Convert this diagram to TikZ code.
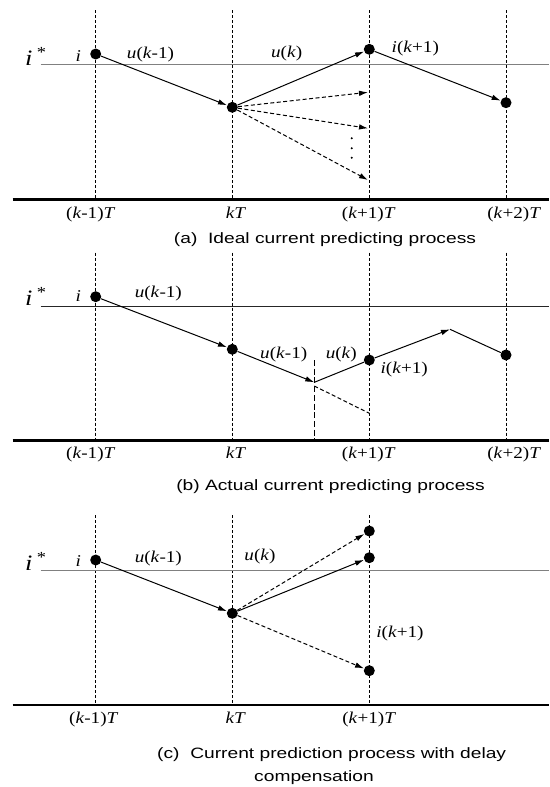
\documentclass[tikz,border=0pt]{standalone}
\usepackage{fontspec}
\setmainfont{Liberation Serif}
\setsansfont{Liberation Sans}
\usetikzlibrary{arrows.meta,positioning}

\begin{document}
\begin{tikzpicture}[x=1pt, y=-1pt,
  dot/.style={circle, fill=black, inner sep=0pt, minimum size=11pt},
  dotsm/.style={circle, fill=black, inner sep=0pt, minimum size=2.2pt},
  vl/.style={line width=0.9pt, dash pattern=on 3.3pt off 1.7pt},
  swl/.style={line width=1pt, dash pattern=on 6pt off 2.7pt},
  baseln/.style={line width=2.4pt},
  refln/.style={line width=1.4pt, draw=black!50},
  reflnb/.style={line width=1pt, draw=black!85},
  ar/.style={-{Latex[length=9pt, width=5.5pt]}, line width=1pt},
  dar/.style={ar, dash pattern=on 4pt off 2.5pt},
  ln/.style={line width=1pt},
  dln/.style={line width=1pt, dash pattern=on 4pt off 2.5pt},
  lb/.style={font=\fontsize{16.5}{19}\selectfont, inner sep=0pt, anchor=base, xscale=1.16},
  istar/.style={font=\fontsize{22}{24}\selectfont, inner sep=0pt, anchor=base west, xscale=1.2},
  captxt/.style={font=\sffamily\fontsize{15}{18}\selectfont, inner sep=0pt, anchor=base, xscale=1.28},
]
\useasboundingbox (0,0) rectangle (549,787);

\draw[vl] (95.7,10) -- (95.7,199.3);
\draw[vl] (232.3,10) -- (232.3,199.3);
\draw[vl] (369.3,10) -- (369.3,199.3);
\draw[vl] (506,10) -- (506,199.3);
\draw[refln] (40.7,64.3) -- (549,64.3);
\draw[baseln] (12.7,199.3) -- (549,199.3);
\node[istar] (sa) at (25,65) {\textit{i}\,\textsuperscript{*}};
\node[dot] (a1) at (95.7,54) {};
\node[dot] (a2) at (232.3,107.3) {};
\node[dot] (a3) at (369.3,49.3) {};
\node[dot] (a4) at (506,102.7) {};
\coordinate (e1) at (368,92.3);
\coordinate (e2) at (368,128.3);
\coordinate (e3) at (368,180);
\draw[ar] (a1) -- (a2); \draw[ar] (a2) -- (a3); \draw[ar] (a3) -- (a4);
\draw[dar] (a2) -- (e1); \draw[dar] (a2) -- (e2); \draw[dar] (a2) -- (e3);
\node[dotsm] (v1) at (351.7,138.3) {};
\node[dotsm] (v2) at (351.7,148.3) {};
\node[dotsm] (v3) at (351.7,157.7) {};
\node[lb] (la1) at (78.3,61.7) {\textit{i}};
\node[lb] (la2) at (150.5,58.7) {\textit{u}(\textit{k}-1)};
\node[lb] (la3) at (286.7,57) {\textit{u}(\textit{k})};
\node[lb] (la4) at (415.3,52) {\textit{i}(\textit{k}+1)};
\node[lb] (ta1) at (90.8,218.5) {(\textit{k}-1)\textit{T}};
\node[lb] (ta2) at (236,218.5) {\textit{kT}};
\node[lb] (ta3) at (368.8,218.5) {(\textit{k}+1)\textit{T}};
\node[lb] (ta4) at (514.2,218.5) {(\textit{k}+2)\textit{T}};
\node[captxt] (capa) at (325,243.5) {(a)\ \ Ideal current predicting process};

\draw[vl] (95.7,252.7) -- (95.7,440.3);
\draw[vl] (232.3,252.7) -- (232.3,440.3);
\draw[vl] (369.3,252.7) -- (369.3,440.3);
\draw[vl] (506,252.7) -- (506,440.3);
\draw[reflnb] (40.7,306.5) -- (549,306.5);
\draw[baseln] (12.7,440.3) -- (549,440.3);
\node[istar] (sb) at (25,305) {\textit{i}\,\textsuperscript{*}};
\node[dot] (b1) at (95.7,296.7) {};
\node[dot] (b2) at (232.3,349.3) {};
\node[dot] (b3) at (369.3,360) {};
\node[dot] (b4) at (506,355) {};
\coordinate (bs) at (314.3,382.3);
\coordinate (bp) at (450,329.3);
\coordinate (bd1) at (314.3,386);
\coordinate (bd2) at (369.3,413.3);
\coordinate (bw1) at (314.3,360);
\coordinate (bw2) at (314.3,440.3);
\draw[swl] (bw1) -- (bw2);
\draw[ar] (b1) -- (b2); \draw[ar] (b2) -- (bs);
\draw[ln] (bs) -- (b3); \draw[ar] (b3) -- (bp); \draw[ln] (bp) -- (b4);
\draw[dln] (bd1) -- (bd2);
\node[lb] (lb1) at (78.3,301.7) {\textit{i}};
\node[lb] (lb2) at (158.3,297) {\textit{u}(\textit{k}-1)};
\node[lb] (lb3) at (283.7,358.7) {\textit{u}(\textit{k}-1)};
\node[lb] (lb4) at (341.3,358.7) {\textit{u}(\textit{k})};
\node[lb] (lb5) at (404.2,373.7) {\textit{i}(\textit{k}+1)};
\node[lb] (tb1) at (90.8,458.5) {(\textit{k}-1)\textit{T}};
\node[lb] (tb2) at (236,458.5) {\textit{kT}};
\node[lb] (tb3) at (368.8,458.5) {(\textit{k}+1)\textit{T}};
\node[lb] (tb4) at (514.2,458.5) {(\textit{k}+2)\textit{T}};
\node[captxt] (capb) at (330.5,490.5) {(b) Actual current predicting process};

\draw[vl] (95.7,515) -- (95.7,705);
\draw[vl] (232.3,515) -- (232.3,705);
\draw[vl] (369.3,515) -- (369.3,705);
\draw[refln] (40.7,570.7) -- (549,570.7);
\draw[baseln] (12.7,705) -- (549,705);
\node[istar] (sc) at (25,570) {\textit{i}\,\textsuperscript{*}};
\node[dot] (c1) at (95.7,560) {};
\node[dot] (c2) at (232.3,613.3) {};
\node[dot] (c3) at (369.3,531) {};
\node[dot] (c4) at (369.3,557.7) {};
\node[dot] (c5) at (369.3,670.7) {};
\draw[ar] (c1) -- (c2); \draw[dar] (c2) -- (c3);
\draw[ar] (c2) -- (c4); \draw[dar] (c2) -- (c5);
\node[lb] (lc1) at (78.3,566.7) {\textit{i}};
\node[lb] (lc2) at (158.3,562) {\textit{u}(\textit{k}-1)};
\node[lb] (lc3) at (260,560.3) {\textit{u}(\textit{k})};
\node[lb] (lc4) at (400,637) {\textit{i}(\textit{k}+1)};
\node[lb] (tc1) at (93.8,723.5) {(\textit{k}-1)\textit{T}};
\node[lb] (tc2) at (235.8,723.5) {\textit{kT}};
\node[lb] (tc3) at (369.2,723.5) {(\textit{k}+1)\textit{T}};
\node[captxt] (capc1) at (331.7,758.5) {(c)\ \ Current prediction process with delay};
\node[captxt] (capc2) at (314,781) {compensation};
\end{tikzpicture}
\end{document}
